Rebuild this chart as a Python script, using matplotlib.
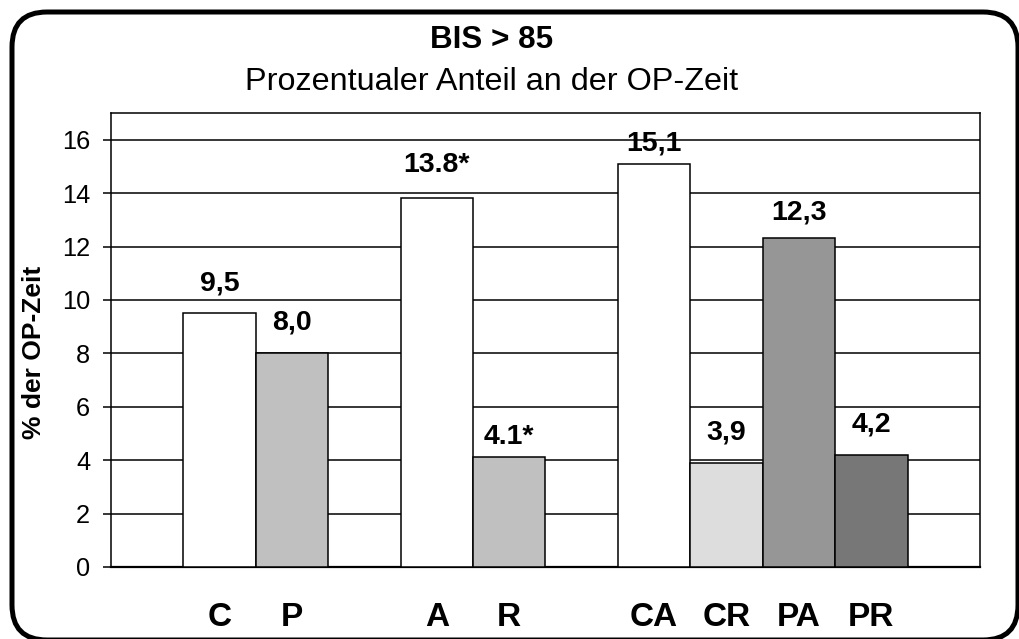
import matplotlib
matplotlib.use("Agg")
import matplotlib.pyplot as plt
from matplotlib.patches import FancyBboxPatch

plt.rcParams['font.family'] = ['Liberation Sans', 'DejaVu Sans']

# Daten
kategorien = ["C", "P", "A", "R", "CA", "CR", "PA", "PR"]
positionen = [1.5, 2.5, 4.5, 5.5, 7.5, 8.5, 9.5, 10.5]
werte = [9.5, 8.0, 13.8, 4.1, 15.1, 3.9, 12.3, 4.2]
beschriftung = ["9,5", "8,0", "13.8*", "4.1*", "15,1", "3,9", "12,3", "4,2"]
farben = ["#ffffff", "#c0c0c0", "#ffffff", "#c0c0c0",
          "#ffffff", "#dddddd", "#969696", "#777777"]
# Abstand der Wertebeschriftung über dem Balken (Pixel)
abstand = [30, 31, 33, 20, 20, 30, 26, 30]

fig = plt.figure(figsize=(10.19, 6.39), dpi=100)
ax = fig.add_axes([0.1089, 0.1127, 0.8528, 0.7105])

ax.bar(positionen, werte, width=1.0, color=farben, edgecolor="black",
       linewidth=1.1, zorder=3)

for x, y, txt, d in zip(positionen, werte, beschriftung, abstand):
    ax.annotate(txt, (x, y), xytext=(0, d * 0.72), textcoords="offset points",
                ha="center", va="center", fontsize=20.5, fontweight="bold",
                zorder=4)

ax.set_xlim(0, 12)
ax.set_ylim(0, 17)
ax.set_yticks(range(0, 17, 2))
ax.yaxis.grid(True, color="black", linewidth=1.1, zorder=0)
ax.set_axisbelow(True)
ax.tick_params(axis="y", labelsize=18.3, length=6, width=1.1, pad=9)
ax.set_xticks(positionen)
ax.set_xticklabels(kategorien, fontsize=24, fontweight="bold")
ax.tick_params(axis="x", length=0, pad=25)
for s in ax.spines.values():
    s.set_linewidth(1.1)
ax.spines["bottom"].set_linewidth(1.6)

ax.set_ylabel("% der OP-Zeit", fontsize=19, fontweight="bold",
              va="center", ha="center")
ax.yaxis.set_label_coords(-0.0886, 0.4736)

fig.text(0.482, 0.937, "BIS > 85", ha="center", va="center",
         fontsize=22.6, fontweight="bold")
fig.text(0.482, 0.872, "Prozentualer Anteil an der OP-Zeit", ha="center",
         va="center", fontsize=23.3)

rahmen = FancyBboxPatch((0.12, -0.01), 10.06, 6.28,
                        boxstyle="round,pad=0,rounding_size=0.35",
                        transform=fig.dpi_scale_trans, facecolor="none",
                        edgecolor="black", linewidth=3.6, clip_on=False)
fig.patches.append(rahmen)

fig.savefig("out.png", dpi=100)
